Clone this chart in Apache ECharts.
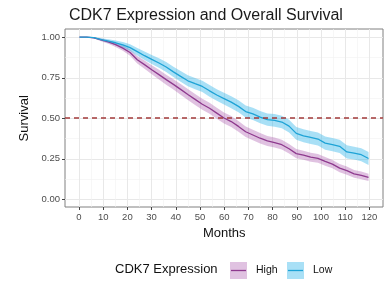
<!DOCTYPE html>
<html>
<head>
<meta charset="utf-8">
<script src="https://cdn.jsdelivr.net/npm/echarts@6/dist/echarts.min.js"></script>
<style>
  html, body { margin: 0; padding: 0; background: #fff; }
  #chart { width: 390px; height: 284px; }
</style>
</head>
<body>
<div id="chart"></div>
<script>
var months = [0, 3, 6, 9, 12, 15, 18, 21, 24, 27, 30, 33, 36, 39, 42, 45, 48, 51, 54, 57, 60,
  63, 66, 69, 72, 75, 78, 81, 84, 87, 90, 93, 96, 99, 102, 105, 108, 111, 114, 117, 120];

// CDK7 low
var lowSurv = [1.000, 1.000, 0.997, 0.985, 0.975, 0.965, 0.952, 0.935, 0.910, 0.885, 0.862,
  0.840, 0.815, 0.785, 0.757, 0.730, 0.712, 0.695, 0.668, 0.642, 0.620,
  0.598, 0.572, 0.540, 0.525, 0.505, 0.490, 0.485, 0.475, 0.450, 0.405,
  0.390, 0.380, 0.370, 0.345, 0.335, 0.325, 0.290, 0.283, 0.273, 0.250];
var lowLower = [1.000, 1.000, 0.994, 0.977, 0.964, 0.951, 0.935, 0.915, 0.887, 0.859, 0.834,
  0.810, 0.784, 0.753, 0.724, 0.696, 0.677, 0.660, 0.632, 0.606, 0.584,
  0.561, 0.535, 0.503, 0.487, 0.467, 0.452, 0.446, 0.436, 0.411, 0.365,
  0.350, 0.340, 0.330, 0.304, 0.294, 0.284, 0.249, 0.243, 0.233, 0.210];
var lowUpper = [1.000, 1.000, 1.000, 0.993, 0.986, 0.979, 0.969, 0.955, 0.933, 0.911, 0.890,
  0.870, 0.846, 0.817, 0.790, 0.764, 0.747, 0.730, 0.704, 0.678, 0.656,
  0.635, 0.609, 0.577, 0.563, 0.543, 0.528, 0.524, 0.514, 0.489, 0.445,
  0.430, 0.420, 0.410, 0.386, 0.376, 0.366, 0.331, 0.323, 0.313, 0.290];

// CDK7 high
var highSurv = [1.000, 1.000, 0.995, 0.983, 0.970, 0.953, 0.932, 0.905, 0.860, 0.830, 0.798,
  0.768, 0.737, 0.708, 0.677, 0.645, 0.615, 0.585, 0.560, 0.530, 0.500,
  0.478, 0.448, 0.415, 0.395, 0.375, 0.358, 0.348, 0.335, 0.310, 0.280,
  0.270, 0.258, 0.250, 0.232, 0.215, 0.190, 0.175, 0.155, 0.145, 0.133];
var highLower = [1.000, 1.000, 0.992, 0.975, 0.959, 0.939, 0.915, 0.885, 0.837, 0.804, 0.770,
  0.738, 0.706, 0.676, 0.644, 0.611, 0.581, 0.551, 0.526, 0.496, 0.466,
  0.444, 0.415, 0.382, 0.363, 0.343, 0.327, 0.317, 0.305, 0.280, 0.251,
  0.242, 0.230, 0.223, 0.205, 0.189, 0.165, 0.150, 0.131, 0.121, 0.110];
var highUpper = [1.000, 1.000, 0.998, 0.991, 0.981, 0.967, 0.949, 0.925, 0.883, 0.856, 0.826,
  0.798, 0.768, 0.740, 0.710, 0.679, 0.649, 0.619, 0.594, 0.564, 0.534,
  0.512, 0.481, 0.448, 0.427, 0.407, 0.389, 0.379, 0.365, 0.340, 0.309,
  0.298, 0.286, 0.277, 0.259, 0.241, 0.215, 0.200, 0.179, 0.169, 0.156];

var medianLine = 0.5;

var purple = '#8e3a8e';
var blue = '#1ea3d6';
var purpleFill = 'rgba(165,80,170,0.35)';
var blueFill = 'rgba(40,178,232,0.40)';

function pairs(ys) {
  return months.map(function (m, i) { return [m, ys[i]]; });
}

// confidence band as one polygon, placed through the axis scales
function ribbon(lo, up, fill) {
  return {
    type: 'custom', silent: true, z: 1,
    data: [[0, 0]],
    renderItem: function (params, api) {
      var pts = [];
      for (var i = 0; i < months.length; i++) pts.push(api.coord([months[i], up[i]]));
      for (var j = months.length - 1; j >= 0; j--) pts.push(api.coord([months[j], lo[j]]));
      return { type: 'polygon', shape: { points: pts }, style: { fill: fill } };
    }
  };
}

var font = 'Liberation Sans, Arial, sans-serif';
var myChart = echarts.init(document.getElementById('chart'));

// grid 0 = whole panel (data), grid 1 = x ticks 0..120, grid 2 = y ticks 0..1
myChart.setOption({
  animation: false,
  textStyle: { fontFamily: font },
  title: {
    text: 'CDK7 Expression and Overall Survival',
    left: 64, top: 3,
    textStyle: { fontSize: 16, fontWeight: 'normal', color: '#1a1a1a', fontFamily: font }
  },
  grid: [
    { left: 65, right: 7, top: 29, bottom: 77, show: true, borderColor: '#808080', borderWidth: 1 },
    { left: 79, right: 20.6, top: 29, bottom: 77 },
    { left: 65, right: 7, top: 37.3, bottom: 84.7 }
  ],
  xAxis: [
    { gridIndex: 0, type: 'value', min: -6, max: 126, show: false },
    {
      gridIndex: 1, type: 'value', min: 0, max: 120, interval: 10, position: 'bottom',
      axisLine: { show: false, onZero: false },
      axisTick: { show: true, length: 3, lineStyle: { color: '#444' } },
      axisLabel: { fontSize: 9.5, color: '#4d4d4d', margin: 5, showMinLabel: true, showMaxLabel: true },
      splitLine: { show: true, lineStyle: { color: '#e8e8e8', width: 1 } },
      minorTick: { show: false, splitNumber: 2 },
      minorSplitLine: { show: true, lineStyle: { color: '#f2f2f2', width: 0.6 } },
      name: 'Months', nameLocation: 'middle', nameGap: 19,
      nameTextStyle: { fontSize: 13, color: '#111' }
    },
    { gridIndex: 2, type: 'value', min: -6, max: 126, show: false }
  ],
  yAxis: [
    { gridIndex: 0, type: 'value', min: -0.05, max: 1.05, show: false },
    { gridIndex: 1, type: 'value', min: -0.05, max: 1.05, show: false },
    {
      gridIndex: 2, type: 'value', min: 0, max: 1, interval: 0.25, position: 'left',
      axisLine: { show: false, onZero: false },
      axisTick: { show: true, length: 3, lineStyle: { color: '#444' } },
      axisLabel: {
        fontSize: 9.5, color: '#4d4d4d', margin: 5,
        formatter: function (v) { return v.toFixed(2); }
      },
      splitLine: { show: true, lineStyle: { color: '#e8e8e8', width: 1 } },
      minorTick: { show: false, splitNumber: 2 },
      minorSplitLine: { show: true, lineStyle: { color: '#f2f2f2', width: 0.6 } },
      name: 'Survival', nameLocation: 'middle', nameGap: 29,
      nameTextStyle: { fontSize: 13, color: '#111' }
    }
  ],
  series: [
    ribbon(highLower, highUpper, purpleFill),
    ribbon(lowLower, lowUpper, blueFill),
    {
      name: 'High', type: 'line', data: pairs(highSurv), z: 3,
      symbol: 'none', lineStyle: { color: purple, width: 1.3 }, itemStyle: { color: purple }
    },
    {
      name: 'Low', type: 'line', data: pairs(lowSurv), z: 3,
      symbol: 'none', lineStyle: { color: blue, width: 1.3 }, itemStyle: { color: blue },
      markLine: {
        silent: true, symbol: ['none', 'none'], label: { show: false },
        lineStyle: { color: '#a23a3a', width: 1.6, type: [5, 4] },
        data: [{ yAxis: medianLine }]
      }
    }
  ],
  graphic: [
    { type: 'text', left: 115, top: 263, style: { text: 'CDK7 Expression', fontSize: 13, fill: '#111', fontFamily: font } },
    { type: 'rect', shape: { x: 230, y: 262, width: 17, height: 17 }, style: { fill: purpleFill } },
    { type: 'line', shape: { x1: 231, y1: 270.5, x2: 246, y2: 270.5 }, style: { stroke: purple, lineWidth: 1.3 } },
    { type: 'text', left: 256, top: 265, style: { text: 'High', fontSize: 10.5, fill: '#111', fontFamily: font } },
    { type: 'rect', shape: { x: 287, y: 262, width: 17, height: 17 }, style: { fill: blueFill } },
    { type: 'line', shape: { x1: 288, y1: 270.5, x2: 303, y2: 270.5 }, style: { stroke: blue, lineWidth: 1.3 } },
    { type: 'text', left: 313, top: 265, style: { text: 'Low', fontSize: 10.5, fill: '#111', fontFamily: font } }
  ]
});
window.onresize = myChart.resize;
</script>
</body>
</html>
